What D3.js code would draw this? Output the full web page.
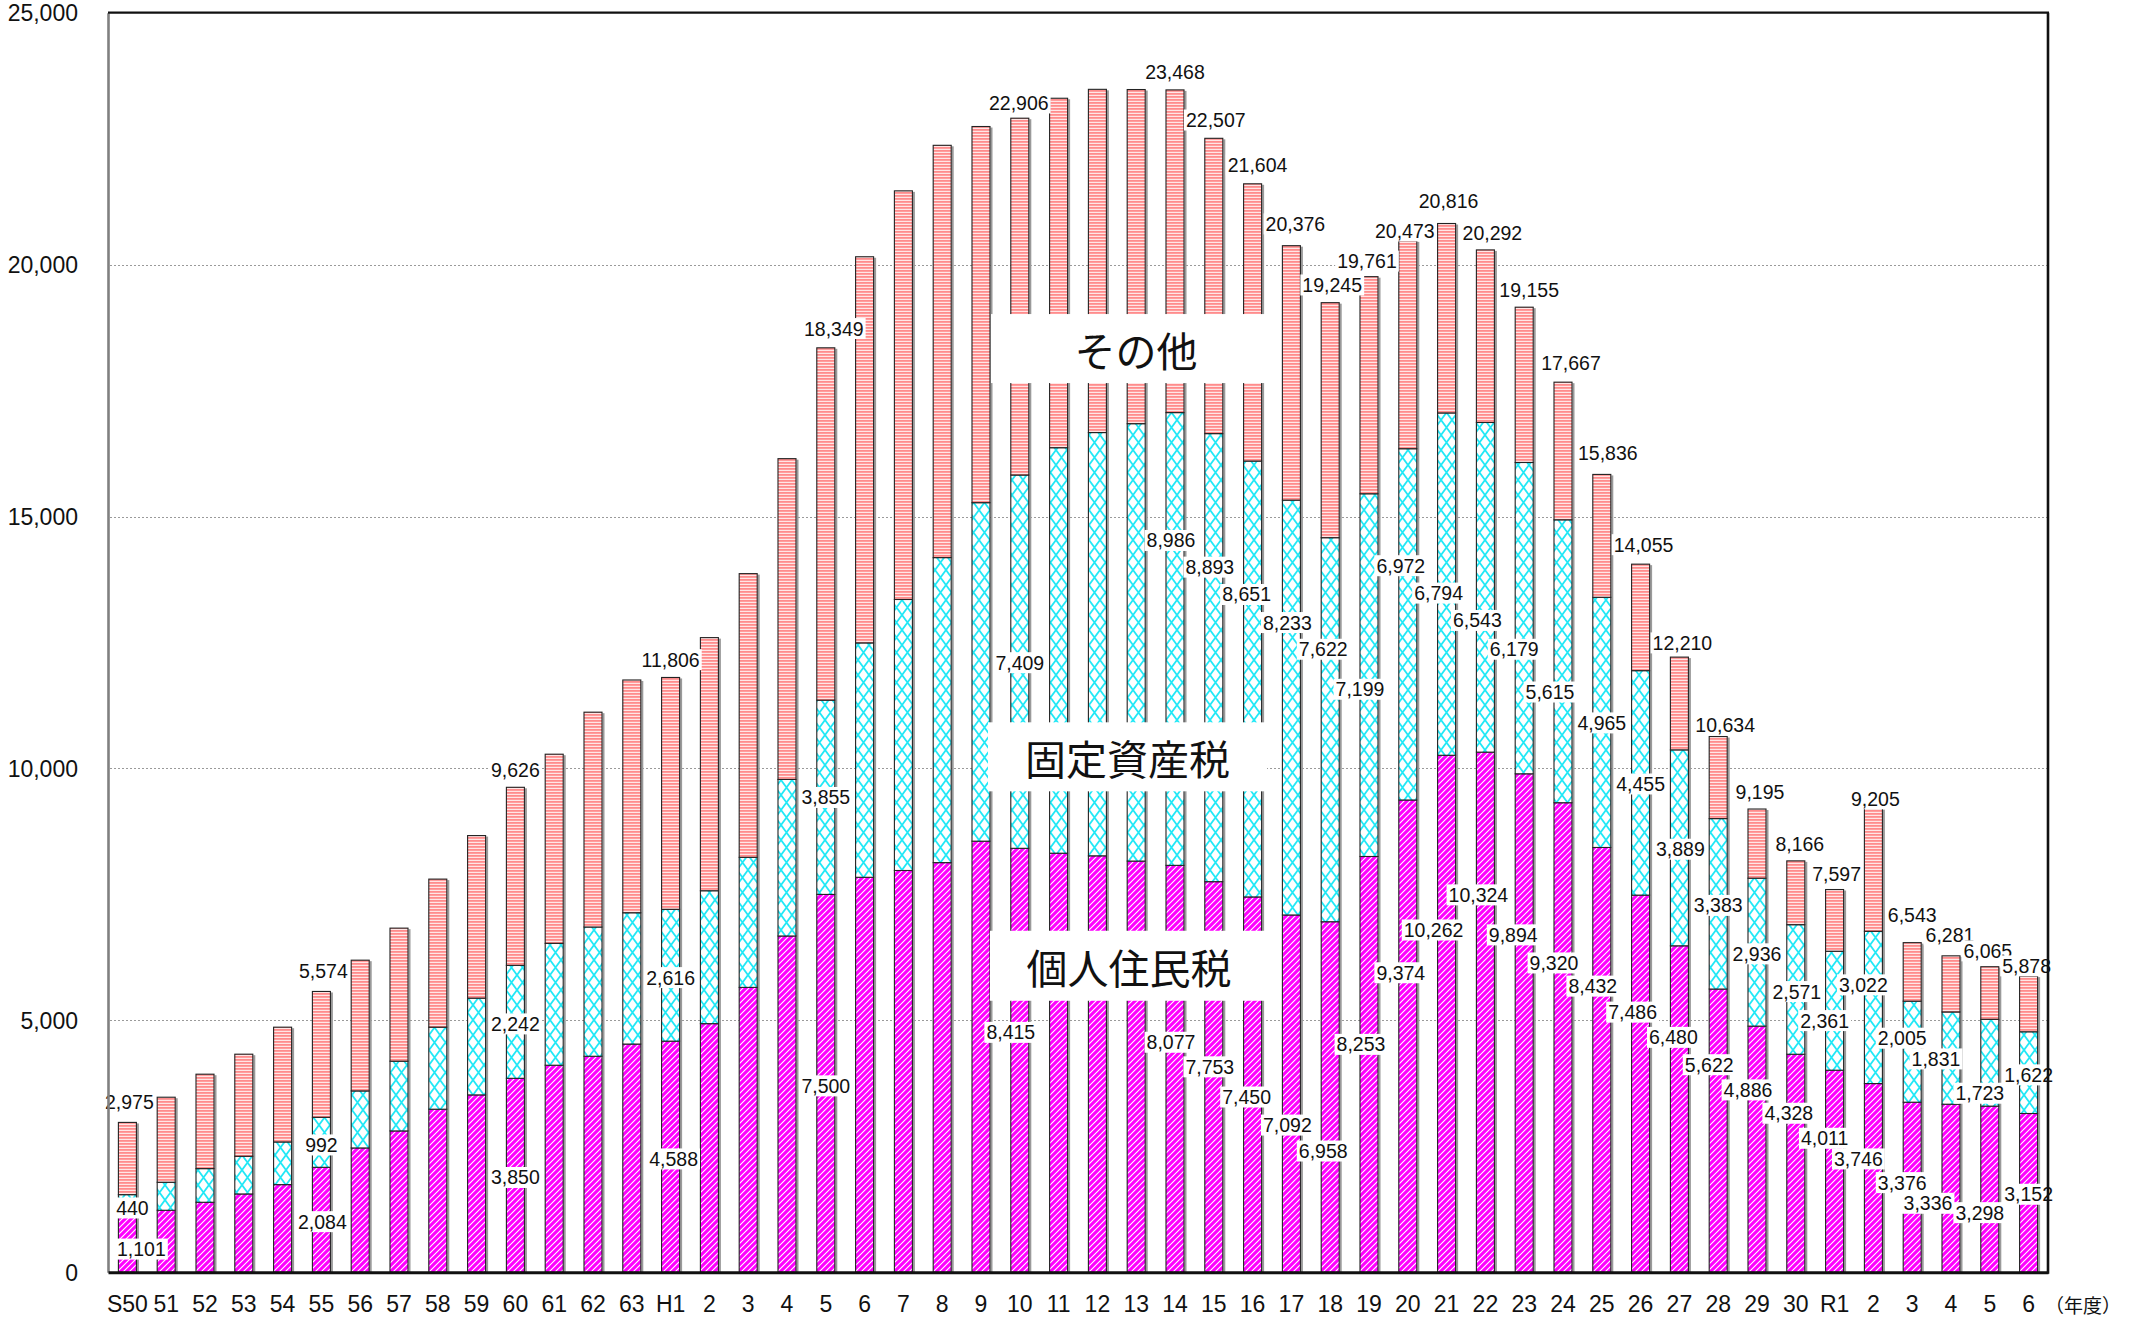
<!DOCTYPE html>
<html>
<head>
<meta charset="utf-8">
<script src="https://cdn.jsdelivr.net/npm/d3@7"></script>
<style>
body{margin:0;background:#fff;}
svg{display:block;font-family:"Liberation Sans",Arial,sans-serif;}
</style>
</head>
<body>
<div id="chart"></div>
<script>
// 年度
var years = ["S50","51","52","53","54","55","56","57","58","59","60","61","62","63",
	"H1","2","3","4","5","6","7","8","9","10","11","12","13","14","15","16","17","18","19","20",
	"21","22","23","24","25","26","27","28","29","30","R1","2","3","4","5","6"];

// 個人住民税
var kojin = [1101,1231,1390,1555,1740,2084,2468,2806,3237,3521,3850,4110,4288,4530,4588,4935,5655,6675,7500,7840,
	7975,8131,8557,8415,8318,8266,8162,8077,7753,7450,7092,6958,8253,9374,10262,10324,9894,9320,8432,7486,
	6480,5622,4886,4328,4011,3746,3376,3336,3298,3152];

// 固定資産税
var kotei = [440,556,668,748,847,992,1132,1384,1628,1920,2242,2419,2565,2606,2616,2638,2581,3107,3855,4652,
	5379,6054,6718,7409,8048,8401,8681,8986,8893,8651,8233,7622,7199,6972,6794,6543,6179,5615,4965,4455,
	3889,3383,2936,2571,2361,3022,2005,1831,1723,1622];

// 合計
var total = [2975,3475,3932,4329,4865,5574,6195,6831,7804,8668,9626,10283,11117,11756,11806,12597,13867,16149,18349,20156,
	21464,22368,22741,22906,23302,23479,23475,23468,22507,21604,20376,19245,19761,20473,20816,20292,19155,17667,15836,14055,
	12210,10634,9195,8166,7597,9205,6543,6281,6065,5878];

var yTicks = [0,5000,10000,15000,20000,25000];
var gridTicks = [5000,10000,15000,20000];
var seriesKeys = ["kojin","kotei","sonota"];

// label layout (not data): [bar index, dx total, y total, dx 固定, y 固定, dx 個人, y 個人]
var labelLayout = [
	[0, 2,3380, 5,1277, 14,461],
	[5, 2,5984, 0,2528, 1,1005],
	[10, 0,9968, 0,4930, 0,1882],
	[14, 0,12160, 0,5849, 3,2250],
	[18, 8,18731, 0,9424, 0,3700],
	[23, -1,23209, 0,12099, -9,4762],
	[27, 0,23831, -4,14525, -4,4566],
	[28, 2,22870, -4,13996, -4,4078],
	[29, 5,21978, -6,13453, -6,3479],
	[30, 4,20808, -4,12896, -4,2922],
	[31, 2,19596, -7,12366, -7,2407],
	[32, -2,20070, -9,11572, -8,4524],
	[33, -3,20669, -7,14024, -7,5945],
	[34, 2,21268, -8,13481, -13,6794],
	[35, 7,20627, -8,12938, -7,7491],
	[36, 5,19499, -10,12366, -11,6697],
	[37, 8,18050, -13,11517, -9,6140],
	[38, 6,16267, 0,10904, -9,5680],
	[39, 3,14442, 0,9692, -8,5164],
	[40, 3,12492, 1,8397, -6,4663],
	[41, 7,10862, 0,7282, -9,4120],
	[42, 3,9538, 0,6321, -9,3620],
	[43, 4,8505, 1,5572, -7,3157],
	[44, 2,7915, -10,4996, -10,2660],
	[45, 2,9398, -10,5705, -15,2250],
	[46, 0,7085, -10,4646, -10,1780],
	[47, -1,6698, -15,4235, -23,1370],
	[48, -2,6380, -10,3554, -10,1184],
	[49, -2,6082, 0,3918, 0,1549]
];

// series name boxes: text, y value of centre, box left/right px, box height
var seriesLabels = [
	["その他", 18334, 991, 1281, 69],
	["固定資産税", 10231, 988, 1267, 69],
	["個人住民税", 6084, 990, 1268, 70]
];

var W = 2131, H = 1317;
var plotL = 108, plotR = 2048, plotT = 12.7, plotB = 1272.3;

var rows = years.map(function(d,i){
	return {i:i, kojin:kojin[i], kotei:kotei[i], sonota:total[i]-kojin[i]-kotei[i]};
});

var x = d3.scaleBand().domain(d3.range(years.length)).range([plotL,plotR]).paddingInner(0.51).paddingOuter(0.255);
var y = d3.scaleLinear().domain([0,25000]).range([plotB,plotT]);
var bw = x.bandwidth();
var fmt = d3.format(",");

var svg = d3.select("#chart").append("svg")
	.attr("width",W)
	.attr("height",H);

var defs = svg.append("defs");

// 個人住民税: magenta diagonal
var p1 = defs.append("pattern").attr("id","pKojin").attr("patternUnits","userSpaceOnUse")
	.attr("width",6).attr("height",6);
p1.append("rect").attr("width",6).attr("height",6).attr("fill","#fff");
p1.append("path").attr("d","M-1.5,1.5 L1.5,-1.5 M0,6 L6,0 M4.5,7.5 L7.5,4.5")
	.attr("stroke","#ff00ff").attr("stroke-width",3.1);

// 固定資産税: cyan diamond cross
var p2 = defs.append("pattern").attr("id","pKotei").attr("patternUnits","userSpaceOnUse")
	.attr("width",11).attr("height",15);
p2.append("rect").attr("width",11).attr("height",15).attr("fill","#fff");
p2.append("path").attr("d","M-1,-1.36 L12,16.36 M12,-1.36 L-1,16.36")
	.attr("stroke","#22e8f6").attr("stroke-width",1.8);

// その他: red horizontal lines
var p3 = defs.append("pattern").attr("id","pSonota").attr("patternUnits","userSpaceOnUse")
	.attr("width",4).attr("height",3);
p3.append("rect").attr("width",4).attr("height",3).attr("fill","#ffe6e6");
p3.append("rect").attr("width",4).attr("height",1.8).attr("fill","#ff8c8c");

var fills = {kojin:"url(#pKojin)", kotei:"url(#pKotei)", sonota:"url(#pSonota)"};

// grid
svg.append("g").selectAll("line")
	.data(gridTicks).enter()
	.append("line")
	.attr("x1",plotL+2).attr("x2",plotR-1)
	.attr("y1",function(d){return Math.round(y(d))+0.5})
	.attr("y2",function(d){return Math.round(y(d))+0.5})
	.attr("stroke","#9a9a9a")
	.attr("stroke-width",1)
	.attr("stroke-dasharray","2,2");

// bars
var stack = d3.stack().keys(seriesKeys)(rows);

// shadow on right edge
svg.append("g").selectAll("rect")
	.data(rows).enter()
	.append("rect")
	.attr("x",function(d){return x(d.i)+bw})
	.attr("y",function(d){return y(total[d.i])+1})
	.attr("width",2)
	.attr("height",function(d){return plotB-y(total[d.i])-1})
	.attr("fill","#9a9a9a");

svg.append("g").selectAll("g")
	.data(stack).enter()
	.append("g")
	.attr("fill",function(s){return fills[s.key]})
	.selectAll("rect")
	.data(function(s){return s})
	.enter()
	.append("rect")
	.attr("x",function(d){return x(d.data.i)+0.5})
	.attr("y",function(d){return y(d[1])})
	.attr("width",bw-1)
	.attr("height",function(d){return y(d[0])-y(d[1])})
	.attr("stroke","#222")
	.attr("stroke-width",1.1);

// value labels
function addLabel(g, cx, cy, txt){
	var t = g.append("text")
		.attr("x",cx).attr("y",cy)
		.attr("text-anchor","middle")
		.attr("dominant-baseline","central")
		.style("font-size","19.5px")
		.attr("fill","#111")
		.text(txt);
	var b = t.node().getBBox();
	g.insert("rect","text")
		.attr("x",b.x-2).attr("y",b.y+0.5)
		.attr("width",b.width+4).attr("height",b.height-1)
		.attr("fill","#fff");
}

var lab = svg.append("g");
labelLayout.forEach(function(L){
	var i = L[0];
	var cx = x(i)+bw/2;
	addLabel(lab.append("g"), cx+L[1], y(L[2]), fmt(total[i]));
	addLabel(lab.append("g"), cx+L[3], y(L[4]), fmt(kotei[i]));
	addLabel(lab.append("g"), cx+L[5], y(L[6]), fmt(kojin[i]));
});

// series name boxes
var sl = svg.append("g").selectAll("g")
	.data(seriesLabels).enter()
	.append("g");
sl.append("rect")
	.attr("x",function(d){return d[2]})
	.attr("y",function(d){return y(d[1])-d[4]/2})
	.attr("width",function(d){return d[3]-d[2]})
	.attr("height",function(d){return d[4]})
	.attr("fill","#fff");
sl.append("text")
	.attr("x",function(d){return (d[2]+d[3])/2})
	.attr("y",function(d){return y(d[1])})
	.attr("text-anchor","middle")
	.attr("dominant-baseline","central")
	.style("font-family","'Noto Sans CJK JP','Noto Sans CJK SC',sans-serif")
	.style("font-size","41px")
	.style("font-weight","400")
	.attr("fill","#111")
	.text(function(d){return d[0]});

// y axis
var yAxis = d3.axisLeft(y).tickValues(yTicks).tickSize(0).tickPadding(30).tickFormat(fmt);
var gy = svg.append("g").attr("transform","translate("+plotL+",0)").call(yAxis);
gy.select(".domain").attr("stroke","#808080").attr("stroke-width",2.6);
gy.selectAll("text").style("font-size","23px").attr("fill","#111").attr("dy","0.35em");

// x axis
var xAxis = d3.axisBottom(x).tickSize(0).tickPadding(23).tickFormat(function(i){return years[i]});
var gx = svg.append("g").attr("transform","translate(0,"+plotB+")").call(xAxis);
gx.select(".domain").attr("stroke","#111").attr("stroke-width",3);
gx.selectAll("text").style("font-size","23px").attr("fill","#111");

// frame top / right
svg.append("line").attr("x1",plotL).attr("x2",plotR+1).attr("y1",plotT).attr("y2",plotT)
	.attr("stroke","#111").attr("stroke-width",2.2);
svg.append("line").attr("x1",plotR).attr("x2",plotR).attr("y1",plotT).attr("y2",plotB+1.5)
	.attr("stroke","#111").attr("stroke-width",2.6);

svg.append("text")
	.attr("x",2083).attr("y",1304)
	.attr("text-anchor","middle")
	.attr("dominant-baseline","central")
	.style("font-family","'Noto Sans CJK JP',sans-serif")
	.style("font-size","19px")
	.attr("fill","#111")
	.text("（年度）");
</script>
</body>
</html>
